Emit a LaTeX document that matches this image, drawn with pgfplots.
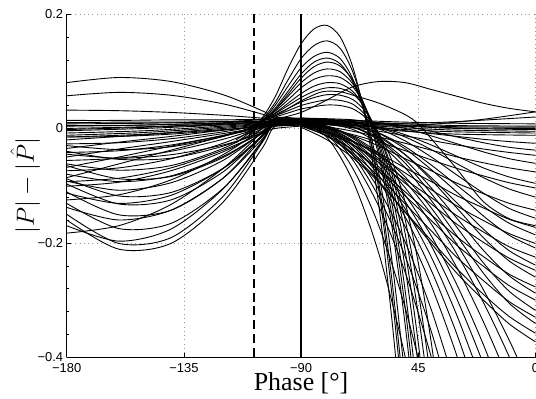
\documentclass[border=0pt]{standalone}
\usepackage{fontspec}
\setmainfont{Liberation Serif}
\setsansfont{Liberation Sans}
\usepackage{pgfplots}
\pgfplotsset{compat=1.18}
\begin{document}
\begin{tikzpicture}
\begin{axis}[
  width=468.8bp, height=343.3bp, scale only axis,
  xmin=-180, xmax=0, ymin=-0.4, ymax=0.2,
  xtick={-180,-135,-90,-45,0}, xticklabels={−180,−135,−90,45,0},
  ytick={-0.4,-0.2,0,0.2}, yticklabels={−0.4,−0.2,0,0.2},
  tick label style={font=\sffamily\fontsize{13}{15}\selectfont},
  xticklabel style={yshift=-2.5bp},
  grid=major,
  major grid style={dash pattern=on 0.8pt off 3.5pt, gray!80, line width=0.5pt},
  axis x line*=bottom, axis y line*=left,
  axis line style={-, line width=0.8pt},
  tick align=inside, major tick length=4bp, minor tick length=2bp,
  minor y tick num=4,
  tick style={black, line width=0.5pt},
  xlabel={Phase [°]}, ylabel={$|P| - |\hat{P}|$},
  every axis x label/.style={at={(axis description cs:0.5,-0.0953)}, anchor=base, font=\fontsize{26}{28}\selectfont},
  every axis y label/.style={at={(axis description cs:-0.0885,0.5)}, rotate=90, anchor=center, font=\fontsize{23}{25}\selectfont},
  crv/.style={black, line width=0.9pt, smooth, mark=none},
]
% left parts
\addplot[crv] coordinates {(-180,0.080)(-160,0.089)(-140,0.082)(-120,0.059)(-105,0.031)(-100,0.020)(-90,0.018)};
\addplot[crv] coordinates {(-180,0.057)(-160,0.063)(-140,0.058)(-120,0.043)(-105,0.025)(-100,0.018)(-90,0.016)};
\addplot[crv] coordinates {(-180,0.032)(-160,0.031)(-140,0.028)(-120,0.023)(-105,0.018)(-100,0.016)(-90,0.015)};
\addplot[crv] coordinates {(-180,0.014)(-160,0.014)(-140,0.015)(-120,0.015)(-105,0.016)(-100,0.016)(-90,0.014)};
\addplot[crv] coordinates {(-180,0.010)(-160,0.011)(-140,0.011)(-120,0.012)(-105,0.012)(-100,0.012)(-90,0.012)};
\addplot[crv] coordinates {(-180,0.005)(-160,0.005)(-140,0.007)(-120,0.009)(-105,0.011)(-100,0.012)(-90,0.010)};
\addplot[crv] coordinates {(-180,-0.027)(-160,-0.025)(-140,-0.018)(-120,-0.006)(-105,0.006)(-100,0.010)(-90,0.010)};
\addplot[crv] coordinates {(-180,-0.035)(-160,-0.024)(-140,-0.014)(-120,-0.003)(-105,0.005)(-100,0.008)(-90,0.008)};
\addplot[crv] coordinates {(-180,-0.042)(-160,-0.039)(-140,-0.029)(-120,-0.012)(-105,0.006)(-100,0.012)(-90,0.012)};
\addplot[crv] coordinates {(-180,-0.050)(-160,-0.036)(-140,-0.023)(-120,-0.009)(-105,0.002)(-100,0.005)(-90,0.006)};
\addplot[crv] coordinates {(-180,-0.056)(-160,-0.052)(-140,-0.040)(-120,-0.019)(-105,0.002)(-100,0.010)(-90,0.011)};
\addplot[crv] coordinates {(-180,-0.062)(-160,-0.073)(-140,-0.065)(-120,-0.035)(-105,0.000)(-100,0.014)(-90,0.013)};
\addplot[crv] coordinates {(-180,-0.068)(-160,-0.050)(-140,-0.031)(-120,-0.013)(-105,0.001)(-100,0.006)(-90,0.008)};
\addplot[crv] coordinates {(-180,-0.074)(-160,-0.069)(-140,-0.053)(-120,-0.026)(-105,0.002)(-100,0.012)(-90,0.012)};
\addplot[crv] coordinates {(-180,-0.080)(-160,-0.093)(-140,-0.083)(-120,-0.049)(-105,-0.009)(-100,0.008)(-90,0.010)};
\addplot[crv] coordinates {(-180,-0.086)(-160,-0.062)(-140,-0.038)(-120,-0.014)(-105,0.004)(-100,0.010)(-90,0.010)};
\addplot[crv] coordinates {(-180,-0.093)(-160,-0.087)(-140,-0.069)(-120,-0.038)(-105,-0.008)(-100,0.004)(-90,0.006)};
\addplot[crv] coordinates {(-180,-0.092)(-160,-0.108)(-140,-0.095)(-120,-0.056)(-105,-0.007)(-100,0.012)(-90,0.012)};
\addplot[crv] coordinates {(-180,-0.101)(-160,-0.094)(-140,-0.074)(-120,-0.041)(-105,-0.007)(-100,0.006)(-90,0.008)};
\addplot[crv] coordinates {(-180,-0.113)(-160,-0.131)(-140,-0.117)(-120,-0.070)(-105,-0.013)(-100,0.010)(-90,0.010)};
\addplot[crv] coordinates {(-180,-0.125)(-160,-0.116)(-140,-0.090)(-120,-0.046)(-105,-0.001)(-100,0.016)(-90,0.014)};
\addplot[crv] coordinates {(-180,-0.138)(-160,-0.160)(-140,-0.143)(-120,-0.087)(-105,-0.019)(-100,0.008)(-90,0.010)};
\addplot[crv] coordinates {(-180,-0.150)(-160,-0.201)(-140,-0.191)(-120,-0.119)(-105,-0.025)(-100,0.014)(-90,0.014)};
\addplot[crv] coordinates {(-180,-0.160)(-160,-0.211)(-140,-0.201)(-120,-0.129)(-105,-0.035)(-100,0.004)(-90,0.008)};
\addplot[crv] coordinates {(-180,-0.170)(-160,-0.197)(-140,-0.176)(-120,-0.106)(-105,-0.022)(-100,0.012)(-90,0.012)};
\addplot[crv] coordinates {(-180,-0.183)(-160,-0.170)(-140,-0.133)(-120,-0.070)(-105,-0.006)(-100,0.018)(-90,0.016)};
\addplot[crv] coordinates {(-180,-0.045)(-160,-0.052)(-140,-0.046)(-120,-0.029)(-105,-0.008)(-100,0.000)(-90,0.004)};
\addplot[crv] coordinates {(-180,-0.020)(-160,-0.014)(-140,-0.008)(-120,-0.002)(-105,0.003)(-100,0.004)(-90,0.006)};
\addplot[crv] coordinates {(-180,-0.030)(-160,-0.037)(-140,-0.032)(-120,-0.014)(-105,0.007)(-100,0.015)(-90,0.014)};
\addplot[crv] coordinates {(-180,-0.065)(-160,-0.088)(-140,-0.084)(-120,-0.051)(-105,-0.008)(-100,0.010)(-90,0.010)};
\addplot[crv] coordinates {(-180,-0.097)(-160,-0.132)(-140,-0.125)(-120,-0.076)(-105,-0.012)(-100,0.014)(-90,0.012)};
\addplot[crv] coordinates {(-180,-0.111)(-160,-0.151)(-140,-0.143)(-120,-0.087)(-105,-0.013)(-100,0.018)(-90,0.016)};
\addplot[crv] coordinates {(-180,-0.131)(-160,-0.175)(-140,-0.166)(-120,-0.105)(-105,-0.024)(-100,0.010)(-90,0.010)};
\addplot[crv] coordinates {(-180,-0.040)(-160,-0.054)(-140,-0.052)(-120,-0.031)(-105,-0.005)(-100,0.006)(-90,0.008)};
\addplot[crv] coordinates {(-180,-0.015)(-160,-0.014)(-140,-0.010)(-120,-0.003)(-105,0.004)(-100,0.006)(-90,0.008)};
\addplot[crv] coordinates {(-180,-0.088)(-160,-0.118)(-140,-0.112)(-120,-0.070)(-105,-0.015)(-100,0.008)(-90,0.010)};
% flat bundle
\addplot[crv] coordinates {(-180,0.000)(-150,0.003)(-120,0.008)(-100,0.012)(-90,0.013)(-70,0.010)(-50,0.006)(-30,0.003)(0,0.002)};
\addplot[crv] coordinates {(-180,-0.004)(-150,0.000)(-120,0.006)(-100,0.011)(-90,0.012)(-70,0.009)(-50,0.004)(-30,0.000)(0,-0.002)};
\addplot[crv] coordinates {(-180,-0.008)(-150,-0.004)(-120,0.004)(-100,0.010)(-90,0.011)(-70,0.007)(-50,0.001)(-30,-0.003)(0,-0.005)};
\addplot[crv] coordinates {(-180,0.004)(-150,0.006)(-120,0.010)(-100,0.014)(-90,0.015)(-70,0.012)(-50,0.008)(-30,0.005)(0,0.004)};
\addplot[crv] coordinates {(-180,-0.012)(-150,-0.007)(-120,0.002)(-100,0.009)(-90,0.010)(-70,0.005)(-50,-0.002)(-30,-0.006)(0,-0.008)};
\addplot[crv] coordinates {(-180,-0.002)(-150,0.002)(-120,0.007)(-100,0.013)(-90,0.014)(-70,0.011)(-50,0.005)(-30,0.001)(0,0.000)};
\addplot[crv] coordinates {(-180,-0.015)(-150,-0.010)(-120,0.000)(-100,0.008)(-90,0.009)(-70,0.003)(-50,-0.005)(-30,-0.010)(0,-0.012)};
\addplot[crv] coordinates {(-180,0.008)(-150,0.009)(-120,0.012)(-100,0.016)(-90,0.016)(-70,0.014)(-50,0.011)(-30,0.009)(0,0.008)};
\addplot[crv] coordinates {(-90,0.012)(-70,0.006)(-50,0.004)(-40,0.007)(-20,0.016)(0,0.029)};
\addplot[crv] coordinates {(-90,0.014)(-70,0.010)(-50,0.009)(-30,0.012)(0,0.020)};
% hump curves
\addplot[crv] coordinates {(-100,0.016)(-90,0.028)(-80,0.050)(-70,0.073)(-60,0.082)(-50,0.080)(-40,0.068)(-30,0.056)(-20,0.044)(-10,0.035)(0,0.029)};
\addplot[crv] coordinates {(-110,0.004)(-100,0.022)(-90,0.048)(-82,0.064)(-75,0.064)(-70,0.058)(-60,0.044)(-50,0.024)(-45,0.008)(-40,-0.018)(-30,-0.072)(-20,-0.128)(-10,-0.158)(0,-0.170)};
% peaked curves
\addplot[crv] coordinates {(-115,-0.020)(-110,-0.005)(-105,0.018)(-100,0.055)(-95,0.105)(-90,0.148)(-85,0.174)(-80,0.180)(-75,0.160)(-70,0.105)(-65,0.010)(-60,-0.140)(-55,-0.340)(-50,-0.580)};
\addplot[crv] coordinates {(-115,-0.025)(-110,-0.008)(-105,0.015)(-100,0.045)(-95,0.085)(-90,0.122)(-85,0.145)(-80,0.153)(-75,0.140)(-70,0.097)(-65,0.018)(-60,-0.112)(-55,-0.295)(-50,-0.520)};
\addplot[crv] coordinates {(-110,-0.012)(-105,0.012)(-100,0.040)(-95,0.074)(-90,0.106)(-85,0.126)(-80,0.133)(-75,0.122)(-70,0.085)(-65,0.015)(-60,-0.100)(-55,-0.270)(-50,-0.490)};
\addplot[crv] coordinates {(-110,-0.010)(-105,0.012)(-100,0.035)(-95,0.065)(-90,0.095)(-85,0.116)(-80,0.123)(-75,0.113)(-70,0.080)(-65,0.020)(-60,-0.082)(-55,-0.235)(-50,-0.440)(-45,-0.660)};
\addplot[crv] coordinates {(-110,-0.012)(-105,0.010)(-100,0.032)(-95,0.060)(-90,0.088)(-85,0.108)(-80,0.116)(-75,0.109)(-70,0.083)(-65,0.032)(-60,-0.052)(-55,-0.175)(-50,-0.345)(-45,-0.550)};
\addplot[crv] coordinates {(-110,-0.008)(-105,0.012)(-100,0.032)(-95,0.056)(-90,0.080)(-85,0.097)(-80,0.104)(-75,0.099)(-70,0.077)(-65,0.033)(-60,-0.042)(-55,-0.155)(-50,-0.315)(-45,-0.515)};
\addplot[crv] coordinates {(-110,-0.005)(-105,0.013)(-100,0.030)(-95,0.050)(-90,0.071)(-85,0.086)(-80,0.092)(-75,0.089)(-70,0.072)(-65,0.034)(-60,-0.032)(-55,-0.135)(-50,-0.285)(-45,-0.475)};
\addplot[crv] coordinates {(-110,-0.003)(-105,0.013)(-100,0.027)(-95,0.044)(-90,0.061)(-85,0.074)(-80,0.080)(-75,0.078)(-70,0.064)(-65,0.032)(-60,-0.025)(-55,-0.115)(-50,-0.245)(-45,-0.415)(-40,-0.620)};
\addplot[crv] coordinates {(-110,0.000)(-105,0.014)(-100,0.026)(-95,0.040)(-90,0.054)(-85,0.065)(-80,0.071)(-75,0.070)(-70,0.060)(-65,0.032)(-60,-0.018)(-55,-0.098)(-50,-0.215)(-45,-0.375)(-40,-0.575)};
\addplot[crv] coordinates {(-110,0.002)(-105,0.014)(-100,0.024)(-95,0.035)(-90,0.046)(-85,0.054)(-80,0.059)(-75,0.058)(-70,0.050)(-65,0.028)(-60,-0.012)(-55,-0.082)(-50,-0.185)(-45,-0.325)(-40,-0.495)};
\addplot[crv] coordinates {(-105,0.014)(-100,0.022)(-95,0.031)(-90,0.040)(-85,0.046)(-80,0.050)(-75,0.049)(-70,0.042)(-65,0.022)(-60,-0.012)(-55,-0.072)(-50,-0.160)(-45,-0.285)(-40,-0.445)(-35,-0.630)};
\addplot[crv] coordinates {(-105,0.014)(-100,0.020)(-95,0.027)(-90,0.034)(-85,0.038)(-80,0.041)(-75,0.040)(-70,0.034)(-65,0.018)(-60,-0.010)(-55,-0.058)(-50,-0.130)(-45,-0.235)(-40,-0.375)(-35,-0.545)};
% steep curves
\addplot[crv] coordinates {(-90,0.010)(-80,-0.016)(-70,-0.093)(-60,-0.221)(-50,-0.400)(-40,-0.631)};
\addplot[crv] coordinates {(-90,0.010)(-80,-0.010)(-70,-0.071)(-60,-0.172)(-50,-0.314)(-40,-0.496)};
\addplot[crv] coordinates {(-90,0.010)(-80,-0.006)(-70,-0.056)(-60,-0.138)(-50,-0.252)(-40,-0.400)(-30,-0.580)};
\addplot[crv] coordinates {(-90,0.010)(-80,-0.005)(-70,-0.048)(-60,-0.121)(-50,-0.224)(-40,-0.355)(-30,-0.515)};
\addplot[crv] coordinates {(-90,0.010)(-80,-0.003)(-70,-0.042)(-60,-0.108)(-50,-0.199)(-40,-0.317)(-30,-0.461)};
\addplot[crv] coordinates {(-90,0.010)(-80,-0.001)(-70,-0.036)(-60,-0.093)(-50,-0.172)(-40,-0.275)(-30,-0.400)(-20,-0.548)};
\addplot[crv] coordinates {(-90,0.010)(-80,0.000)(-70,-0.031)(-60,-0.083)(-50,-0.155)(-40,-0.248)(-30,-0.362)(-20,-0.496)};
\addplot[crv] coordinates {(-90,0.010)(-80,0.001)(-70,-0.028)(-60,-0.075)(-50,-0.141)(-40,-0.225)(-30,-0.329)(-20,-0.451)};
\addplot[crv] coordinates {(-90,0.010)(-80,0.001)(-70,-0.024)(-60,-0.068)(-50,-0.128)(-40,-0.205)(-30,-0.300)(-20,-0.412)(-10,-0.541)};
\addplot[crv] coordinates {(-90,0.010)(-80,0.002)(-70,-0.022)(-60,-0.061)(-50,-0.117)(-40,-0.188)(-30,-0.275)(-20,-0.378)(-10,-0.496)};
\addplot[crv] coordinates {(-90,0.010)(-80,0.003)(-70,-0.018)(-60,-0.054)(-50,-0.104)(-40,-0.167)(-30,-0.245)(-20,-0.338)(-10,-0.444)(0,-0.565)};
\addplot[crv] coordinates {(-90,0.010)(-80,0.004)(-70,-0.016)(-60,-0.048)(-50,-0.093)(-40,-0.150)(-30,-0.221)(-20,-0.304)(-10,-0.400)(0,-0.509)};
\addplot[crv] coordinates {(-90,0.010)(-80,0.004)(-70,-0.014)(-60,-0.044)(-50,-0.085)(-40,-0.139)(-30,-0.204)(-20,-0.282)(-10,-0.371)(0,-0.472)};
% fan curves
\addplot[crv] coordinates {(-90,0.012)(-80,0.010)(-70,0.006)(-60,0.002)(-50,-0.004)(-40,-0.009)(-30,-0.014)(-20,-0.019)(-10,-0.023)(0,-0.026)};
\addplot[crv] coordinates {(-90,0.016)(-80,0.015)(-70,0.014)(-60,0.010)(-50,0.004)(-40,-0.005)(-30,-0.015)(-20,-0.025)(-10,-0.033)(0,-0.038)};
\addplot[crv] coordinates {(-90,0.010)(-80,0.007)(-70,0.001)(-60,-0.005)(-50,-0.013)(-40,-0.021)(-30,-0.029)(-20,-0.036)(-10,-0.042)(0,-0.047)};
\addplot[crv] coordinates {(-90,0.018)(-80,0.017)(-70,0.015)(-60,0.009)(-50,0.000)(-40,-0.013)(-30,-0.027)(-20,-0.041)(-10,-0.053)(0,-0.061)};
\addplot[crv] coordinates {(-90,0.008)(-80,0.003)(-70,-0.005)(-60,-0.015)(-50,-0.026)(-40,-0.038)(-30,-0.050)(-20,-0.060)(-10,-0.069)(0,-0.076)};
\addplot[crv] coordinates {(-90,0.014)(-80,0.013)(-70,0.010)(-60,0.002)(-50,-0.011)(-40,-0.029)(-30,-0.049)(-20,-0.069)(-10,-0.085)(0,-0.096)};
\addplot[crv] coordinates {(-90,0.006)(-80,0.000)(-70,-0.011)(-60,-0.024)(-50,-0.039)(-40,-0.055)(-30,-0.070)(-20,-0.083)(-10,-0.095)(0,-0.104)};
\addplot[crv] coordinates {(-90,0.016)(-80,0.015)(-70,0.011)(-60,0.001)(-50,-0.015)(-40,-0.037)(-30,-0.062)(-20,-0.086)(-10,-0.106)(0,-0.120)};
\addplot[crv] coordinates {(-90,0.010)(-80,0.001)(-70,-0.013)(-60,-0.031)(-50,-0.053)(-40,-0.074)(-30,-0.096)(-20,-0.114)(-10,-0.131)(0,-0.143)};
\addplot[crv] coordinates {(-90,0.018)(-80,0.016)(-70,0.011)(-60,-0.001)(-50,-0.022)(-40,-0.050)(-30,-0.082)(-20,-0.113)(-10,-0.140)(0,-0.157)};
\addplot[crv] coordinates {(-90,0.004)(-80,-0.007)(-70,-0.023)(-60,-0.044)(-50,-0.069)(-40,-0.093)(-30,-0.118)(-20,-0.139)(-10,-0.159)(0,-0.173)};
\addplot[crv] coordinates {(-90,0.014)(-80,0.012)(-70,0.006)(-60,-0.008)(-50,-0.032)(-40,-0.064)(-30,-0.100)(-20,-0.136)(-10,-0.166)(0,-0.186)};
\addplot[crv] coordinates {(-90,0.008)(-80,-0.005)(-70,-0.023)(-60,-0.048)(-50,-0.078)(-40,-0.107)(-30,-0.136)(-20,-0.161)(-10,-0.184)(0,-0.201)};
\addplot[crv] coordinates {(-90,0.016)(-80,0.014)(-70,0.007)(-60,-0.009)(-50,-0.036)(-40,-0.072)(-30,-0.112)(-20,-0.153)(-10,-0.187)(0,-0.209)};
\addplot[crv] coordinates {(-90,0.006)(-80,-0.008)(-70,-0.029)(-60,-0.056)(-50,-0.089)(-40,-0.121)(-30,-0.153)(-20,-0.181)(-10,-0.207)(0,-0.225)};
\addplot[crv] coordinates {(-90,0.012)(-80,0.009)(-70,0.002)(-60,-0.016)(-50,-0.046)(-40,-0.086)(-30,-0.131)(-20,-0.176)(-10,-0.214)(0,-0.239)};
\addplot[crv] coordinates {(-90,0.010)(-80,-0.005)(-70,-0.029)(-60,-0.060)(-50,-0.096)(-40,-0.132)(-30,-0.168)(-20,-0.199)(-10,-0.227)(0,-0.248)};
\addplot[crv] coordinates {(-90,0.018)(-80,0.015)(-70,0.007)(-60,-0.013)(-50,-0.046)(-40,-0.090)(-30,-0.140)(-20,-0.191)(-10,-0.232)(0,-0.260)};
\addplot[crv] coordinates {(-90,0.004)(-80,-0.013)(-70,-0.038)(-60,-0.072)(-50,-0.111)(-40,-0.151)(-30,-0.190)(-20,-0.224)(-10,-0.255)(0,-0.277)};
\addplot[crv] coordinates {(-90,0.014)(-80,0.011)(-70,0.002)(-60,-0.019)(-50,-0.055)(-40,-0.104)(-30,-0.158)(-20,-0.213)(-10,-0.258)(0,-0.288)};
\addplot[crv] coordinates {(-90,0.008)(-80,-0.010)(-70,-0.038)(-60,-0.075)(-50,-0.118)(-40,-0.161)(-30,-0.205)(-20,-0.241)(-10,-0.275)(0,-0.300)};
\addplot[crv] coordinates {(-90,0.016)(-80,0.013)(-70,0.003)(-60,-0.021)(-50,-0.061)(-40,-0.114)(-30,-0.174)(-20,-0.235)(-10,-0.285)(0,-0.318)};
\addplot[crv] coordinates {(-90,0.006)(-80,-0.014)(-70,-0.044)(-60,-0.085)(-50,-0.132)(-40,-0.179)(-30,-0.226)(-20,-0.266)(-10,-0.303)(0,-0.330)};
\addplot[crv] coordinates {(-90,0.012)(-80,0.008)(-70,-0.002)(-60,-0.027)(-50,-0.069)(-40,-0.126)(-30,-0.189)(-20,-0.253)(-10,-0.306)(0,-0.341)};
\addplot[crv] coordinates {(-90,0.002)(-80,-0.020)(-70,-0.052)(-60,-0.095)(-50,-0.146)(-40,-0.196)(-30,-0.246)(-20,-0.290)(-10,-0.329)(0,-0.358)};
\addplot[crv] coordinates {(-90,0.010)(-80,-0.013)(-70,-0.047)(-60,-0.093)(-50,-0.147)(-40,-0.201)(-30,-0.254)(-20,-0.300)(-10,-0.342)(0,-0.373)};
% reference lines
\addplot[black, line width=2pt, dash pattern=on 9pt off 5pt, sharp plot] coordinates {(-108,-0.4)(-108,0.2)};
\addplot[black, line width=2pt, sharp plot] coordinates {(-90,-0.4)(-90,0.2)};
\coordinate (SW) at (rel axis cs:0,0);
\coordinate (NE) at (rel axis cs:1,1);
\end{axis}
\pgfresetboundingbox
\path[use as bounding box] ([shift={(-66.7bp,-41.7bp)}]SW) rectangle ([shift={(0.5bp,14bp)}]NE);
\end{tikzpicture}
\end{document}
